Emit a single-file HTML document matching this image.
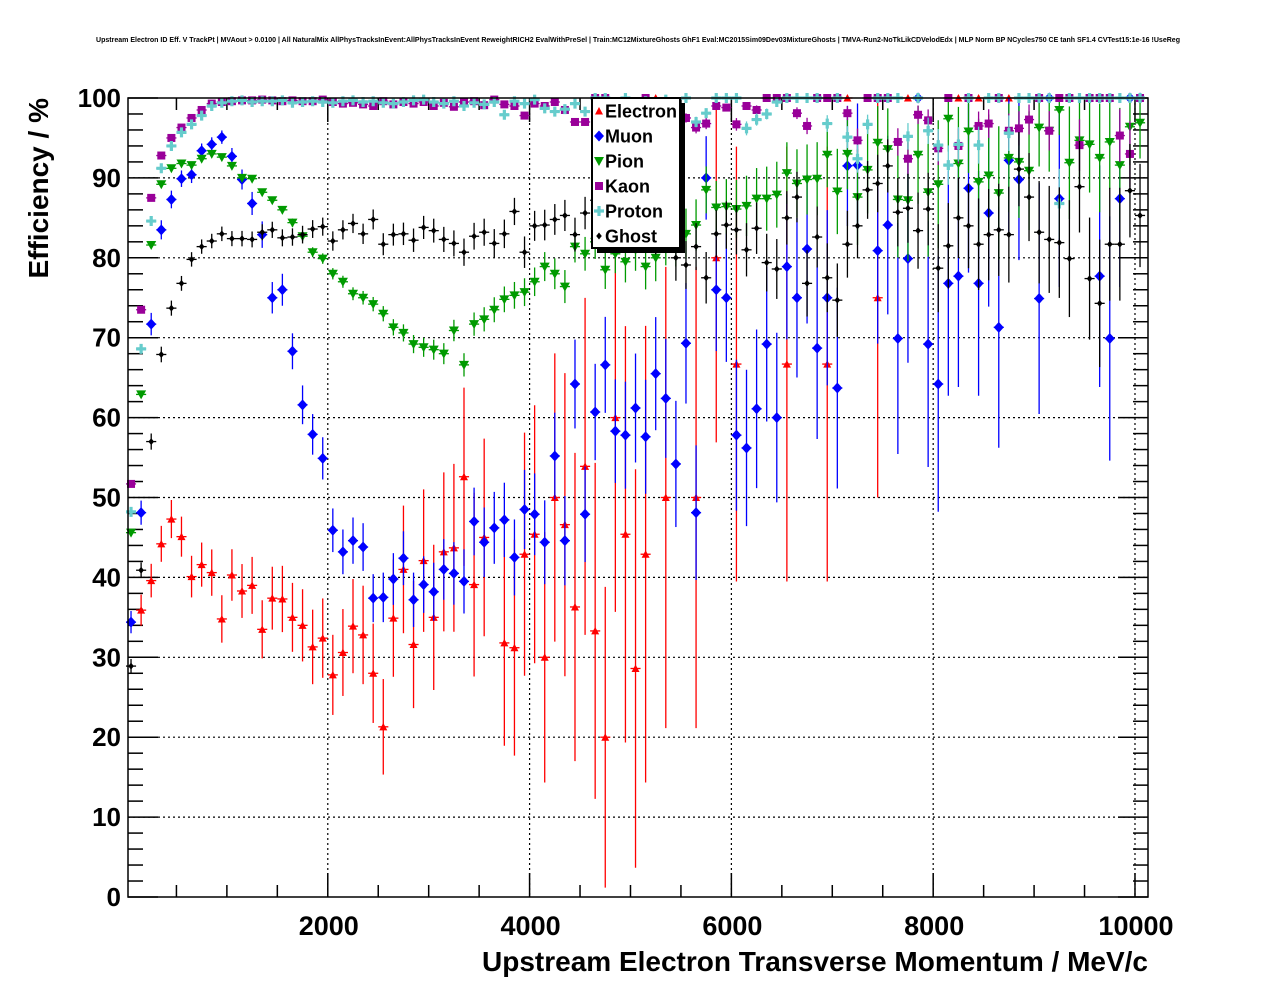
<!DOCTYPE html>
<html><head><meta charset="utf-8"><style>
html,body{margin:0;padding:0;background:#fff;}
svg{display:block;font-family:"Liberation Sans",Arial,sans-serif;}
</style></head><body>
<svg id="chart" width="1276" height="996" viewBox="0 0 1276 996" xmlns="http://www.w3.org/2000/svg">
<rect x="0" y="0" width="1276" height="996" fill="#fff"/>
<text x="638" y="42" font-size="7" font-weight="bold" text-anchor="middle" textLength="1084" lengthAdjust="spacingAndGlyphs">Upstream Electron ID Eff. V TrackPt | MVAout &gt; 0.0100 | All NaturalMix AllPhysTracksInEvent:AllPhysTracksInEvent ReweightRICH2 EvalWithPreSel | Train:MC12MixtureGhosts GhF1 Eval:MC2015Sim09Dev03MixtureGhosts | TMVA-Run2-NoTkLikCDVelodEdx | MLP Norm BP NCycles750 CE tanh SF1.4 CVTest15:1e-16 !UseReg</text>
<g id="grid"></g>
<g id="axes"></g>
<g id="series"></g>
<rect x="128" y="98" width="1020" height="799" fill="none" stroke="#000" stroke-width="1.5"/>
<text x="1148" y="971" font-size="28" font-weight="bold" text-anchor="end">Upstream Electron Transverse Momentum / MeV/c</text>
<text transform="translate(48,98) rotate(-90)" font-size="28" font-weight="bold" text-anchor="end">Efficiency / %</text>
<g id="legend">
<rect x="597" y="103" width="88" height="150" fill="#000"/>
<rect x="592" y="98" width="88" height="150" fill="#fff" stroke="#000" stroke-width="2"/>
</g>
</svg>
<script>
const binCenters = [];
for (let i = 0; i <= 100; i++) binCenters.push(50 + 100 * i);
const xTicks = [2000, 4000, 6000, 8000, 10000];
const yTicks = [0, 10, 20, 30, 40, 50, 60, 70, 80, 90, 100];
const seriesNames = ["Electron", "Muon", "Pion", "Kaon", "Proton", "Ghost"];

const electron = [null,35.9,39.6,44.2,47.3,45.1,40.1,41.6,40.6,34.8,
 40.3,38.3,39.0,33.5,37.4,37.3,35.0,34.0,31.3,32.4,
 27.8,30.6,33.9,32.8,28.0,21.3,34.9,41.0,31.6,42.1,
 35.0,43.2,43.7,52.6,39.1,45.0,null,31.8,31.2,42.9,
 45.4,30.0,50.0,46.6,36.3,53.9,33.3,20.0,60.0,45.4,
 28.6,42.9,100,50.0,null,null,50.0,null,80.0,null,
 66.7,null,null,null,null,66.7,null,null,null,66.7,
 null,100,null,null,75.0,null,null,100,null,null,
 null,null,100,null,100,null,null,100,null,null,
 100,null,null,100,null,null,null,null,null,null,
 100];
const muon = [34.4,48.1,71.7,83.5,87.3,89.9,90.4,93.4,94.2,95.1,
 92.7,89.8,86.8,82.9,75.0,76.0,68.3,61.6,57.9,54.9,
 45.9,43.2,44.6,43.8,37.4,37.5,39.8,42.4,37.2,39.1,
 38.2,41.0,40.5,39.5,47.0,44.4,46.2,47.2,42.5,48.5,
 47.9,44.4,55.2,44.6,64.2,47.9,60.7,66.6,58.3,57.8,
 61.2,57.6,65.5,62.4,54.2,69.3,48.1,90.0,76.0,75.0,
 57.8,56.2,61.1,69.2,60.0,78.9,75.0,81.1,68.7,75.0,
 63.7,91.5,91.6,null,80.9,84.1,69.9,79.9,100,69.2,
 64.2,76.8,77.7,88.7,76.8,85.6,71.3,92.2,89.8,null,
 74.9,100,87.4,null,null,null,77.7,69.9,87.4,100,
 100];
const pion = [45.6,62.9,81.6,89.2,91.2,91.8,91.6,92.4,93.0,92.6,
 91.5,90.0,89.9,88.2,87.2,86.0,84.4,82.7,80.7,79.9,
 78.0,77.0,75.5,75.0,74.2,73.0,71.3,70.6,69.2,68.8,
 68.5,68.0,70.9,66.6,71.7,72.3,73.5,74.8,75.3,75.7,
 77.0,78.9,78.0,76.4,81.4,80.5,82.0,78.5,80.5,79.5,
 81.0,78.9,80.0,82.0,82.0,83.0,84.1,88.5,86.3,86.4,
 86.1,86.5,87.4,87.4,87.9,90.6,89.3,89.8,89.9,92.9,
 88.3,93.0,87.6,91.0,94.4,93.6,87.3,87.2,92.9,88.2,
 89.2,97.4,91.8,95.8,89.5,90.3,88.1,92.5,92.0,90.9,
 96.3,95.9,98.5,91.9,94.7,94.2,92.5,94.5,91.6,96.4,
 96.9];
const kaon = [51.7,73.5,87.5,92.8,95.0,96.3,97.5,98.5,99.3,99.5,
 99.6,99.7,99.7,99.8,99.7,99.6,99.7,99.6,99.6,99.8,
 99.5,99.3,99.4,99.2,99.0,99.6,99.2,99.5,99.3,99.5,
 99.0,99.4,98.9,99.5,99.6,99.1,99.8,99.2,99.0,97.8,
 99.3,99.0,99.5,98.5,97.0,97.0,100,100,99.3,99.5,
 99.0,100,99.0,99.2,98.0,97.5,96.3,96.8,99.0,98.8,
 96.7,99.0,98.5,100,100,100,98.1,96.5,100,100,
 100,98.1,94.7,100,100,100,94.5,92.4,97.9,97.2,
 93.7,100,94.0,100,96.5,96.8,100,95.9,96.2,97.3,
 100,95.9,100,100,94.1,100,100,100,95.3,93.0,
 100];
const proton = [48.2,68.6,84.6,91.2,94.0,95.7,96.7,97.8,99.0,99.4,
 99.6,99.7,99.5,99.6,99.6,99.7,99.4,99.5,99.6,99.5,
 99.4,99.6,99.7,99.5,99.6,99.4,99.3,99.5,99.7,99.8,
 99.5,99.3,99.6,99.0,99.4,99.2,99.5,97.9,99.6,99.3,
 99.8,98.7,98.3,98.6,99.3,98.3,100,100,99.5,100,
 99.5,99.6,99.3,99.8,99.5,100,97.0,98.1,100,100,
 100,96.2,97.3,98.0,99.5,100,100,100,100,96.8,
 100,95.1,92.4,96.7,100,100,100,95.2,100,95.9,
 94.1,91.6,94.2,100,94.1,100,100,95.6,100,100,
 100,100,86.8,100,100,100,100,100,100,100,
 100];
const ghost = [28.9,40.9,57.0,67.9,73.7,76.8,79.8,81.4,82.1,83.0,
 82.4,82.4,82.3,83.2,83.5,82.5,82.6,82.9,83.6,83.9,
 82.1,83.5,84.3,83.0,84.8,81.7,82.9,83.0,82.2,83.8,
 83.4,82.3,81.8,80.7,82.7,83.2,81.8,83.0,85.8,80.7,
 84.0,84.1,84.8,85.3,82.9,85.6,87.2,84.0,84.5,83.5,
 84.0,84.0,83.0,85.0,80.0,79.1,81.4,77.5,83.0,84.1,
 83.5,81.0,83.7,79.4,78.6,85.0,87.6,76.8,82.6,77.5,
 74.7,81.7,84.0,88.5,89.3,91.5,85.7,86.2,83.4,86.1,
 78.7,81.5,85.0,84.0,81.7,82.9,83.5,82.9,91.1,87.6,
 83.2,82.3,81.9,79.9,88.9,77.4,74.3,81.7,81.7,88.4,
 85.3];
// approximate sample sizes used for binomial error bars
const entriesAtZero = [707, 1200, 22000, 29000, 29000, 2700];
const entriesDecay = [940, 1600, 1100, 1500, 1500, 2070];
const entriesFloor = [3, 9, 15, 15, 15, 30];

const NS = "http://www.w3.org/2000/svg";
const X0 = 128, X1 = 1148, Y0 = 897, Y1 = 98;
const XMIN = 20, XMAX = 10129;
function xPx(x) { return X0 + (x - XMIN) / (XMAX - XMIN) * (X1 - X0); }
function yPx(v) { return Y0 - v / 100 * (Y0 - Y1); }
function mk(tag, attrs, parent) {
  const e = document.createElementNS(NS, tag);
  for (const k in attrs) e.setAttribute(k, attrs[k]);
  parent.appendChild(e);
  return e;
}
const grid = document.getElementById('grid');
const axes = document.getElementById('axes');
const seriesG = document.getElementById('series');

xTicks.forEach(t => {
  const l = mk('line', {x1: xPx(t), x2: xPx(t), y1: Y1, y2: Y0, stroke: '#000', 'stroke-width': 1.2, 'stroke-dasharray': '2,3'}, grid);
  
  
});
yTicks.forEach(t => {
  if (t === 0 || t === 100) return;
  const l = mk('line', {x1: X0, x2: X1, y1: yPx(t), y2: yPx(t), stroke: '#000', 'stroke-width': 1.2, 'stroke-dasharray': '2,3'}, grid);
  
  
});
for (let v = 0; v <= 100; v += 2) {
  const major = v % 10 === 0;
  const len = major ? 30 : 15;
  const y = yPx(v);
  const l1 = mk('line', {x1: X0, x2: X0 + len, y1: y, y2: y, stroke: '#000', 'stroke-width': 1.5}, axes);
  
  
  const l2 = mk('line', {x1: X1, x2: X1 - len, y1: y, y2: y, stroke: '#000', 'stroke-width': 1.5}, axes);
  
  
}
yTicks.forEach(v => {
  const t = mk('text', {x: 121, y: yPx(v) + 9, 'font-size': 26, 'font-weight': 'bold', 'text-anchor': 'end'}, axes);
  t.textContent = v;
  
  
});
for (let x = 500; x <= 10000; x += 500) {
  const major = x % 2000 === 0;
  const len = major ? 24 : 12;
  const px = xPx(x);
  const l1 = mk('line', {x1: px, x2: px, y1: Y0, y2: Y0 - len, stroke: '#000', 'stroke-width': 1.5}, axes);
  
  
  const l2 = mk('line', {x1: px, x2: px, y1: Y1, y2: Y1 + len, stroke: '#000', 'stroke-width': 1.5}, axes);
  
  
}
xTicks.forEach(x => {
  const t = mk('text', {x: xPx(x) + 1, y: 935, 'font-size': 27, 'font-weight': 'bold', 'text-anchor': 'middle'}, axes);
  t.textContent = x;
  
  
});

const colors = ['#ff0000', '#0000ff', '#009a00', '#990099', '#66cccc', '#000000'];
function marker(type, cx, cy, color, parent) {
  let e;
  if (type === 0) e = mk('polygon', {points: `${cx-4},${cy+3.5} ${cx+4},${cy+3.5} ${cx},${cy-4}`, fill: color}, parent);
  else if (type === 1) e = mk('path', {d: `M${cx},${cy-5.5} L${cx+5},${cy} L${cx},${cy+5.5} L${cx-5},${cy} Z`, fill: color}, parent);
  else if (type === 2) e = mk('polygon', {points: `${cx-5},${cy-4} ${cx+5},${cy-4} ${cx},${cy+5}`, fill: color}, parent);
  else if (type === 3) e = mk('rect', {x: cx-4, y: cy-4, width: 8, height: 8, fill: color}, parent);
  else if (type === 4) e = mk('path', {d: `M${cx-5},${cy} H${cx+5} M${cx},${cy-5} V${cy+5}`, stroke: color, 'stroke-width': 3.2, fill: 'none'}, parent);
  else e = mk('path', {d: `M${cx},${cy-3.5} L${cx+2.8},${cy} L${cx},${cy+3.5} L${cx-2.8},${cy} Z`, fill: color}, parent);
  return e;
}
const allSeries = [electron, muon, pion, kaon, proton, ghost];
[0, 1, 2, 3, 4, 5].forEach(s => {
  const g = mk('g', {}, seriesG);
  
  
  const vals = allSeries[s];
  vals.forEach((v, i) => {
    if (v === null) return;
    const x = binCenters[i];
    const p = Math.min(Math.max(v / 100, 0), 1);
    const N = Math.max(entriesFloor[s], entriesAtZero[s] * Math.exp(-x / entriesDecay[s]));
    const err = Math.max(100 * Math.sqrt(p * (1 - p) / N), 0.3);
    const cx = xPx(x), cy = yPx(v);
    const pg = mk('g', {}, g);
    
    
    mk('line', {x1: cx, x2: cx, y1: yPx(Math.min(100, v + err)), y2: yPx(Math.max(0, v - err)), stroke: colors[s], 'stroke-width': 1.3}, pg);
    mk('line', {x1: xPx(x - 50), x2: xPx(x + 50), y1: cy, y2: cy, stroke: colors[s], 'stroke-width': 1.3}, pg);
    marker(s, cx, cy, colors[s], pg);
  });
});

const legend = document.getElementById('legend');
seriesNames.forEach((n, i) => {
  const y = 111 + i * 25;
  const g = mk('g', {}, legend);
  
  
  marker(i, 599, y, colors[i], g);
  const t = mk('text', {x: 605, y: y + 6.5, 'font-size': 18, 'font-weight': 'bold'}, g);
  t.textContent = n;
});
</script>
</body></html>
